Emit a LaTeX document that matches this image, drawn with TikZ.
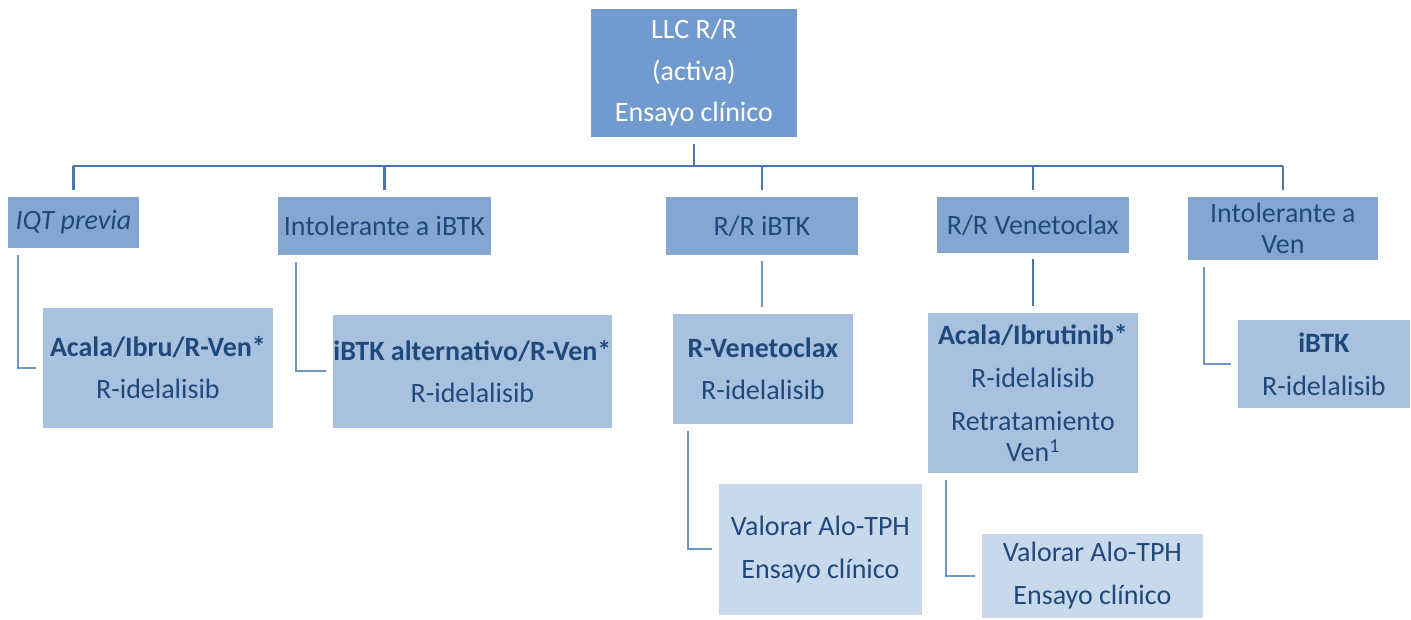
\documentclass[tikz,border=0pt]{standalone}
\usepackage{fontspec}
\setmainfont{Carlito}
\usepackage{tikz}
\usetikzlibrary{positioning}
\definecolor{rootblue}{HTML}{719BCE}
\definecolor{midblue}{HTML}{84A7D1}
\definecolor{lightblue}{HTML}{A8C1DE}
\definecolor{paleblue}{HTML}{C9D9EC}
\definecolor{inkblue}{HTML}{1F497D}
\definecolor{busblue}{HTML}{4A76AA}
\definecolor{linkblue}{HTML}{6F96C8}
\newcommand{\boxfont}{\fontsize{28}{31}\selectfont}
\tikzset{
    plainbox/.style={draw=white, line width=0.8pt, align=center, anchor=north west,
        inner sep=0pt, font=\boxfont, text=inkblue},
    rootbox/.style={plainbox, fill=rootblue, text=white},
    groupbox/.style={plainbox, fill=midblue},
    treatbox/.style={plainbox, fill=lightblue},
    laterbox/.style={plainbox, fill=paleblue},
    busline/.style={draw=busblue, line width=2.6pt},
    linkline/.style={draw=linkblue, line width=2pt}
}

\begin{document}
\begin{tikzpicture}[x=1pt, y=-1pt]
    \useasboundingbox (0, 0) rectangle (1411, 619);
    \node[rootbox, minimum width=207pt, minimum height=129pt] (root) at (590, 8)
        {LLC R/R\\[10.5pt](activa)\\[10.5pt]Ensayo clínico};
    \node[groupbox, minimum width=132pt, minimum height=52pt] (iqt) at (7, 196) {\textit{IQT previa}};
    \node[groupbox, minimum width=214pt, minimum height=59pt] (intb) at (277, 196) {Intolerante a iBTK};
    \node[groupbox, minimum width=193pt, minimum height=59pt] (rrb) at (665, 196) {R/R iBTK};
    \node[groupbox, minimum width=193pt, minimum height=57pt] (rrv) at (936, 196) {R/R Venetoclax};
    \node[groupbox, minimum width=191pt, minimum height=64pt] (intv) at (1187, 196) {Intolerante a\\Ven};
    \node[treatbox, minimum width=231pt, minimum height=121pt] (acala) at (42, 307)
        {\textbf{Acala/Ibru/R-Ven*}\\[11pt]R-idelalisib};
    \node[treatbox, minimum width=280pt, minimum height=114pt] (ibalt) at (332, 314)
        {\textbf{iBTK alternativo/R-Ven*}\\[11pt]R-idelalisib};
    \node[treatbox, minimum width=181pt, minimum height=111pt] (rven) at (672, 313)
        {\textbf{R-Venetoclax}\\[11pt]R-idelalisib};
    \node[treatbox, minimum width=211pt, minimum height=161pt] (acib) at (927, 312)
        {\textbf{Acala/Ibrutinib*}\\[12pt]R-idelalisib\\[12pt]Retratamiento\\Ven\textsuperscript{1}};
    \node[treatbox, minimum width=173pt, minimum height=89pt] (ibtk) at (1237, 319)
        {\textbf{iBTK}\\[12pt]R-idelalisib};
    \node[laterbox, minimum width=204pt, minimum height=132pt] (alo1) at (718, 483)
        {Valorar Alo-TPH\\[12pt]Ensayo clínico};
    \node[laterbox, minimum width=222pt, minimum height=85pt] (alo2) at (981, 533)
        {Valorar Alo-TPH\\[12pt]Ensayo clínico};

    \coordinate (bus) at (693, 166);
    \draw[busline, shorten <=6pt] (root.south) -- (root.south |- bus);
    \draw[busline] (iqt.north |- bus) -- (intv.north |- bus);
    \foreach \grp in {iqt, intb, rrb, rrv, intv}
        \draw[busline, shorten >=6pt] (\grp.north |- bus) -- (\grp.north);

    \draw[linkline] ([shift={(11, 6)}]iqt.south west) |- ([shift={(-6, 0)}]acala.west);
    \draw[linkline] ([shift={(19, 6)}]intb.south west) |- ([shift={(-6, 0)}]ibalt.west);
    \draw[linkline, shorten <=5pt, shorten >=6pt] (rrb.south) -- (rrb.south |- rven.north);
    \draw[busline, shorten <=5pt, shorten >=6pt] (rrv.south) -- (rrv.south |- acib.north);
    \draw[linkline] ([shift={(17, 6)}]intv.south west) |- ([shift={(-6, 0)}]ibtk.west);
    \draw[linkline] ([shift={(16, 6)}]rven.south west) |- ([shift={(-6, 0)}]alo1.west);
    \draw[linkline] ([shift={(19, 6)}]acib.south west) |- ([shift={(-6, 0)}]alo2.west);
\end{tikzpicture}
\end{document}
